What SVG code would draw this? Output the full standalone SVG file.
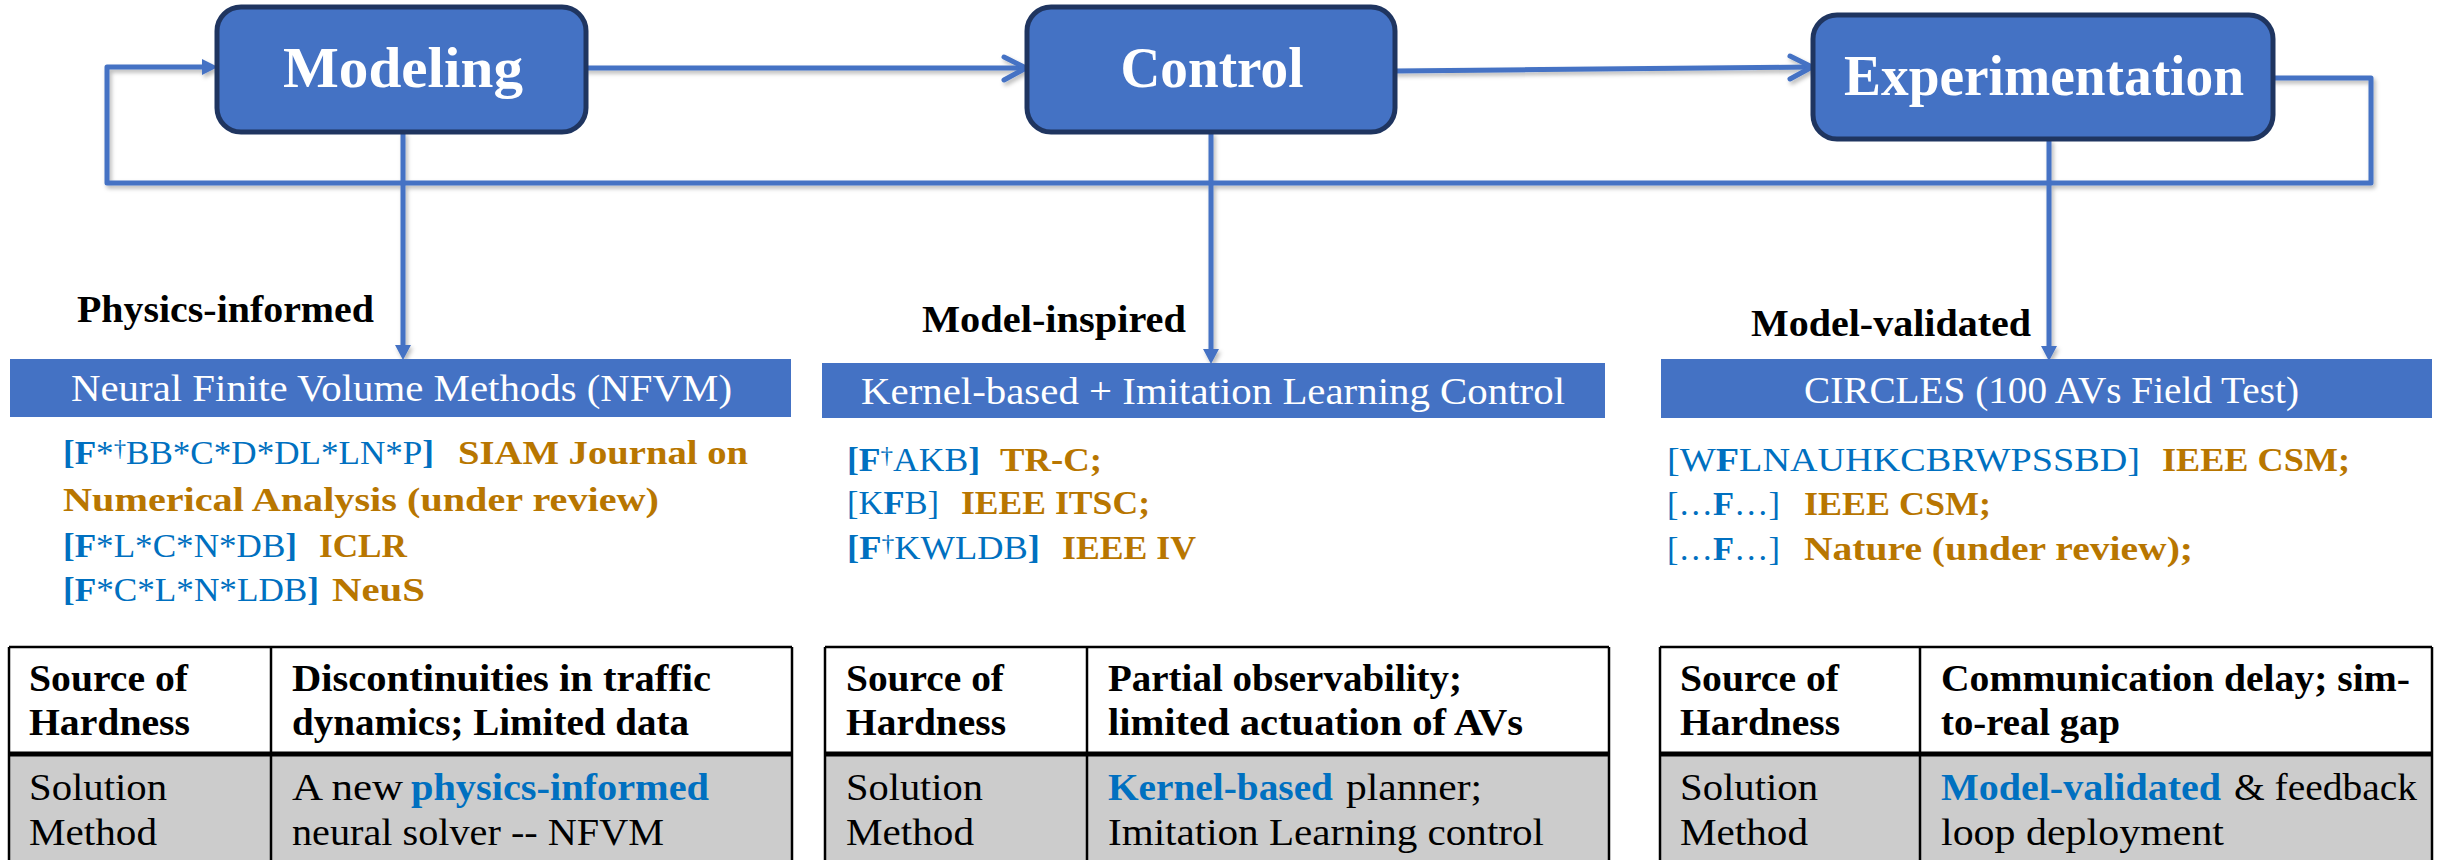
<svg xmlns="http://www.w3.org/2000/svg" width="2450" height="860" viewBox="0 0 2450 860">
  <style>
    text { font-family: "Liberation Serif", "DejaVu Serif", serif; }
    .title { font-size: 56px; font-weight: bold; fill: #ffffff; }
    .lab { font-size: 38px; font-weight: bold; fill: #000000; }
    .ban { font-size: 37px; fill: #ffffff; }
    .ref { font-size: 34px; fill: #0070C0; }
    .ven { font-size: 34px; font-weight: bold; fill: #B87600; }
    .b { font-weight: bold; }
    .sup { font-size: 24px; }
    .th { font-size: 38px; font-weight: bold; fill: #000000; }
    .td { font-size: 38px; fill: #000000; }
    .hl { font-weight: bold; fill: #0070C0; }
    .box { fill: #4472C4; stroke: #1F3560; stroke-width: 5; }
    .banner { fill: #4472C4; }
    .wire { fill: none; stroke: #4472C4; stroke-width: 5; stroke-linecap: round; stroke-linejoin: round; }
    .head { fill: #4472C4; }
    .grid { stroke: #000000; stroke-width: 2.5; fill: none; }
    .thick { stroke: #000000; stroke-width: 5; }
  </style>
  <defs>
    <filter id="shadow" x="-5%" y="-20%" width="110%" height="140%">
      <feDropShadow dx="2" dy="3" stdDeviation="2" flood-color="#000000" flood-opacity="0.28"/>
    </filter>
  </defs>

  <rect width="2450" height="860" fill="#ffffff"/>

  <!-- connectors -->
  <g id="connectors" filter="url(#shadow)">
    <!-- feedback loop: Experimentation back to Modeling -->
    <polyline class="wire" points="2273,78 2371,78 2371,183 107,183 107,67 205,67"/>
    <polygon class="head" points="218,67 202,59 202,75"/>
    <!-- Modeling to Control -->
    <line class="wire" x1="586" y1="68" x2="1025" y2="68"/>
    <polyline class="wire" points="1004,57 1026,68 1004,80"/>
    <!-- Control to Experimentation -->
    <line class="wire" x1="1395" y1="71" x2="1811" y2="67"/>
    <polyline class="wire" points="1790,56 1812,67 1790,79"/>
    <!-- drops to the method banners -->
    <line class="wire" x1="403" y1="134" x2="403" y2="348"/>
    <polygon class="head" points="403,360 395,345 411,345"/>
    <line class="wire" x1="1211" y1="134" x2="1211" y2="352"/>
    <polygon class="head" points="1211,364 1203,349 1219,349"/>
    <line class="wire" x1="2049" y1="141" x2="2049" y2="350"/>
    <polygon class="head" points="2049,361 2041,346 2057,346"/>
  </g>

  <!-- stage boxes -->
  <g id="modeling">
    <rect class="box" x="217" y="7" width="369" height="125" rx="24"/>
    <text class="title" x="403" y="87" text-anchor="middle" textLength="240" lengthAdjust="spacingAndGlyphs">Modeling</text>
  </g>
  <g id="control">
    <rect class="box" x="1027" y="7" width="368" height="125" rx="24"/>
    <text class="title" x="1212" y="87" text-anchor="middle" textLength="183" lengthAdjust="spacingAndGlyphs">Control</text>
  </g>
  <g id="experimentation">
    <rect class="box" x="1813" y="15" width="460" height="124" rx="24"/>
    <text class="title" x="2044" y="95" text-anchor="middle" textLength="400" lengthAdjust="spacingAndGlyphs">Experimentation</text>
  </g>

  <!-- approach labels -->
  <g id="label-physics">
    <text class="lab" x="77" y="322" textLength="297" lengthAdjust="spacingAndGlyphs">Physics-informed</text>
  </g>
  <g id="label-inspired">
    <text class="lab" x="922" y="332" textLength="264" lengthAdjust="spacingAndGlyphs">Model-inspired</text>
  </g>
  <g id="label-validated">
    <text class="lab" x="1751" y="336" textLength="280" lengthAdjust="spacingAndGlyphs">Model-validated</text>
  </g>

  <!-- method banners -->
  <g id="banner-nfvm">
    <rect class="banner" x="10" y="359" width="781" height="58"/>
    <text class="ban" x="71" y="401" textLength="661" lengthAdjust="spacingAndGlyphs">Neural Finite Volume Methods (NFVM)</text>
  </g>
  <g id="banner-kernel">
    <rect class="banner" x="822" y="363" width="783" height="55"/>
    <text class="ban" x="861" y="404" textLength="704" lengthAdjust="spacingAndGlyphs">Kernel-based + Imitation Learning Control</text>
  </g>
  <g id="banner-circles">
    <rect class="banner" x="1661" y="359" width="771" height="59"/>
    <text class="ban" x="1804" y="403" textLength="495" lengthAdjust="spacingAndGlyphs">CIRCLES (100 AVs Field Test)</text>
  </g>

  <!-- publications: modeling -->
  <g id="refs-modeling">
    <text class="ref" x="63" y="464" textLength="371" lengthAdjust="spacingAndGlyphs"><tspan class="b">[F</tspan>*<tspan class="sup" dy="-8">†</tspan><tspan dy="8">BB*C*D*DL*LN*P</tspan><tspan class="b">]</tspan></text>
    <text class="ven" x="458" y="464" textLength="290" lengthAdjust="spacingAndGlyphs">SIAM Journal on</text>
    <text class="ven" x="63" y="511" textLength="596" lengthAdjust="spacingAndGlyphs">Numerical Analysis (under review)</text>
    <text class="ref" x="63" y="557" textLength="234" lengthAdjust="spacingAndGlyphs"><tspan class="b">[F</tspan>*L*C*N*DB<tspan class="b">]</tspan></text>
    <text class="ven" x="319" y="557" textLength="88" lengthAdjust="spacingAndGlyphs">ICLR</text>
    <text class="ref" x="63" y="601" textLength="256" lengthAdjust="spacingAndGlyphs"><tspan class="b">[F</tspan>*C*L*N*LDB<tspan class="b">]</tspan></text>
    <text class="ven" x="332" y="601" textLength="93" lengthAdjust="spacingAndGlyphs">NeuS</text>
  </g>

  <!-- publications: control -->
  <g id="refs-control">
    <text class="ref" x="847" y="471" textLength="133" lengthAdjust="spacingAndGlyphs"><tspan class="b">[F</tspan><tspan class="sup" dy="-8">†</tspan><tspan dy="8">AKB</tspan><tspan class="b">]</tspan></text>
    <text class="ven" x="1000" y="471" textLength="102" lengthAdjust="spacingAndGlyphs">TR-C;</text>
    <text class="ref" x="847" y="514" textLength="92" lengthAdjust="spacingAndGlyphs">[K<tspan class="b">F</tspan>B]</text>
    <text class="ven" x="961" y="514" textLength="189" lengthAdjust="spacingAndGlyphs">IEEE ITSC;</text>
    <text class="ref" x="847" y="559" textLength="193" lengthAdjust="spacingAndGlyphs"><tspan class="b">[F</tspan><tspan class="sup" dy="-8">†</tspan><tspan dy="8">KWLDB</tspan><tspan class="b">]</tspan></text>
    <text class="ven" x="1062" y="559" textLength="134" lengthAdjust="spacingAndGlyphs">IEEE IV</text>
  </g>

  <!-- publications: experimentation -->
  <g id="refs-experimentation">
    <text class="ref" x="1667" y="471" textLength="473" lengthAdjust="spacingAndGlyphs">[W<tspan class="b">F</tspan>LNAUHKCBRWPSSBD]</text>
    <text class="ven" x="2162" y="471" textLength="188" lengthAdjust="spacingAndGlyphs">IEEE CSM;</text>
    <text class="ref" x="1667" y="515" textLength="113" lengthAdjust="spacingAndGlyphs">[…<tspan class="b">F</tspan>…]</text>
    <text class="ven" x="1804" y="515" textLength="187" lengthAdjust="spacingAndGlyphs">IEEE CSM;</text>
    <text class="ref" x="1667" y="560" textLength="113" lengthAdjust="spacingAndGlyphs">[…<tspan class="b">F</tspan>…]</text>
    <text class="ven" x="1804" y="560" textLength="389" lengthAdjust="spacingAndGlyphs">Nature (under review);</text>
  </g>

  <!-- summary table: modeling -->
  <g id="table-modeling">
    <rect x="9" y="756" width="783" height="110" fill="#CCCCCC"/>
    <line class="grid" x1="9" y1="647" x2="792" y2="647"/>
    <line class="grid" x1="9" y1="647" x2="9" y2="866"/>
    <line class="grid" x1="271" y1="647" x2="271" y2="866"/>
    <line class="grid" x1="792" y1="647" x2="792" y2="866"/>
    <line class="thick" x1="9" y1="754" x2="792" y2="754"/>
    <text class="th" x="29" y="691" textLength="159" lengthAdjust="spacingAndGlyphs">Source of</text>
    <text class="th" x="29" y="735" textLength="161" lengthAdjust="spacingAndGlyphs">Hardness</text>
    <text class="th" x="292" y="691" textLength="419" lengthAdjust="spacingAndGlyphs">Discontinuities in traffic</text>
    <text class="th" x="292" y="735" textLength="397" lengthAdjust="spacingAndGlyphs">dynamics; Limited data</text>
    <text class="td" x="29" y="800" textLength="138" lengthAdjust="spacingAndGlyphs">Solution</text>
    <text class="td" x="29" y="845" textLength="128" lengthAdjust="spacingAndGlyphs">Method</text>
    <text class="td" x="292" y="800" textLength="111" lengthAdjust="spacingAndGlyphs">A new</text>
    <text class="td hl" x="411" y="800" textLength="298" lengthAdjust="spacingAndGlyphs">physics-informed</text>
    <text class="td" x="292" y="845" textLength="372" lengthAdjust="spacingAndGlyphs">neural solver -- NFVM</text>
  </g>

  <!-- summary table: control -->
  <g id="table-control">
    <rect x="825" y="756" width="784" height="110" fill="#CCCCCC"/>
    <line class="grid" x1="825" y1="647" x2="1609" y2="647"/>
    <line class="grid" x1="825" y1="647" x2="825" y2="866"/>
    <line class="grid" x1="1087" y1="647" x2="1087" y2="866"/>
    <line class="grid" x1="1609" y1="647" x2="1609" y2="866"/>
    <line class="thick" x1="825" y1="754" x2="1609" y2="754"/>
    <text class="th" x="846" y="691" textLength="158" lengthAdjust="spacingAndGlyphs">Source of</text>
    <text class="th" x="846" y="735" textLength="160" lengthAdjust="spacingAndGlyphs">Hardness</text>
    <text class="th" x="1108" y="691" textLength="354" lengthAdjust="spacingAndGlyphs">Partial observability;</text>
    <text class="th" x="1108" y="735" textLength="415" lengthAdjust="spacingAndGlyphs">limited actuation of AVs</text>
    <text class="td" x="846" y="800" textLength="137" lengthAdjust="spacingAndGlyphs">Solution</text>
    <text class="td" x="846" y="845" textLength="128" lengthAdjust="spacingAndGlyphs">Method</text>
    <text class="td hl" x="1108" y="800" textLength="225" lengthAdjust="spacingAndGlyphs">Kernel-based</text>
    <text class="td" x="1346" y="800" textLength="136" lengthAdjust="spacingAndGlyphs">planner;</text>
    <text class="td" x="1108" y="845" textLength="436" lengthAdjust="spacingAndGlyphs">Imitation Learning control</text>
  </g>

  <!-- summary table: experimentation -->
  <g id="table-experimentation">
    <rect x="1660" y="756" width="772" height="110" fill="#CCCCCC"/>
    <line class="grid" x1="1660" y1="647" x2="2432" y2="647"/>
    <line class="grid" x1="1660" y1="647" x2="1660" y2="866"/>
    <line class="grid" x1="1920" y1="647" x2="1920" y2="866"/>
    <line class="grid" x1="2432" y1="647" x2="2432" y2="866"/>
    <line class="thick" x1="1660" y1="754" x2="2432" y2="754"/>
    <text class="th" x="1680" y="691" textLength="159" lengthAdjust="spacingAndGlyphs">Source of</text>
    <text class="th" x="1680" y="735" textLength="160" lengthAdjust="spacingAndGlyphs">Hardness</text>
    <text class="th" x="1941" y="691" textLength="469" lengthAdjust="spacingAndGlyphs">Communication delay; sim-</text>
    <text class="th" x="1941" y="735" textLength="179" lengthAdjust="spacingAndGlyphs">to-real gap</text>
    <text class="td" x="1680" y="800" textLength="138" lengthAdjust="spacingAndGlyphs">Solution</text>
    <text class="td" x="1680" y="845" textLength="128" lengthAdjust="spacingAndGlyphs">Method</text>
    <text class="td hl" x="1941" y="800" textLength="280" lengthAdjust="spacingAndGlyphs">Model-validated</text>
    <text class="td" x="2234" y="800" textLength="183" lengthAdjust="spacingAndGlyphs">&amp; feedback</text>
    <text class="td" x="1941" y="845" textLength="283" lengthAdjust="spacingAndGlyphs">loop deployment</text>
  </g>
</svg>
